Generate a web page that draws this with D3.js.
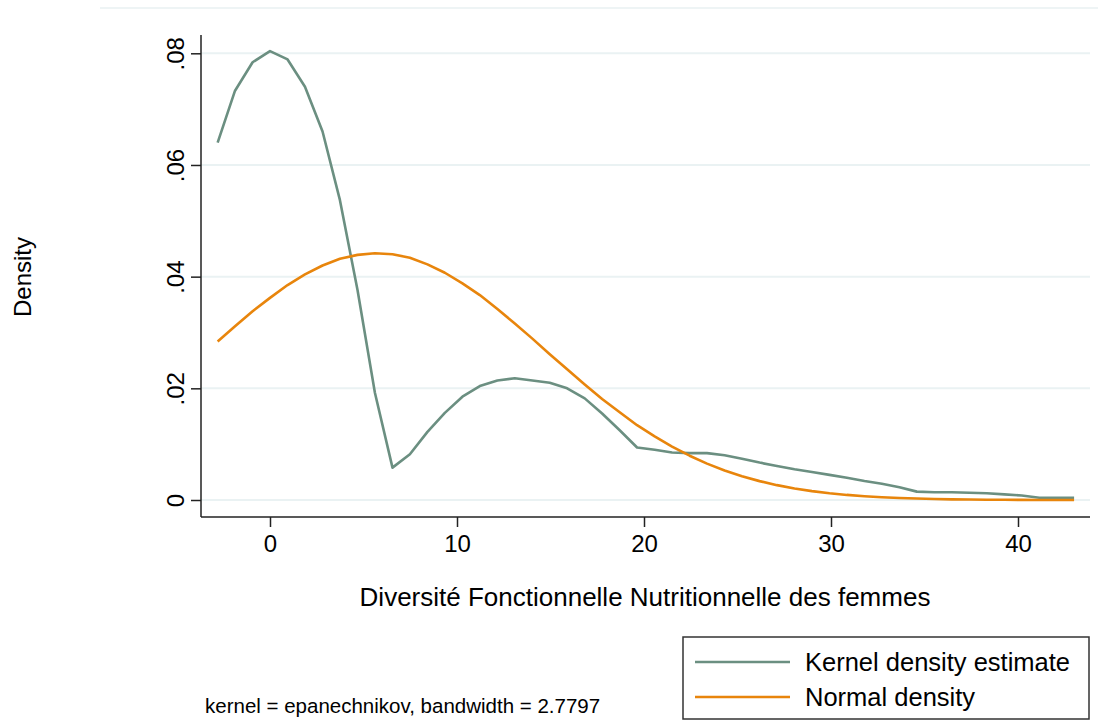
<!DOCTYPE html>
<html>
<head>
<meta charset="utf-8">
<script src="https://cdn.jsdelivr.net/npm/d3@7"></script>
<style>
  body { margin: 0; background: #fff; }
  text { font-family: "Liberation Sans", Arial, sans-serif; fill: #000; }
</style>
</head>
<body>
<svg id="chart" width="1098" height="721"></svg>
<script>
// evaluation points (x) shared by both curves
var gridX = [-2.8, -1.87, -0.93, 0.0, 0.94, 1.87, 2.81, 3.74, 4.68, 5.61,
  6.55, 7.48, 8.42, 9.35, 10.29, 11.22, 12.16, 13.09, 14.03, 14.96,
  15.89, 16.83, 17.76, 18.7, 19.63, 20.57, 21.5, 22.44, 23.37, 24.31,
  25.24, 26.18, 27.11, 28.05, 28.98, 29.92, 30.85, 31.79, 32.72, 33.66,
  34.59, 35.53, 36.46, 37.4, 38.33, 39.27, 40.2, 41.14, 42.07, 43.0];

var kernelDensity = [.0640, .0733, .0784, .0804, .0789, .0740, .0660, .0537, .0376, .0192,
  .0058, .0082, .0122, .0156, .0185, .0204, .0214, .0218, .0214, .0210,
  .0200, .0182, .0155, .0125, .0094, .0090, .0085, .0084, .0084, .0080,
  .0074, .0067, .0061, .0055, .0050, .0045, .0040, .0034, .0029, .0023,
  .0015, .0014, .0014, .0013, .0012, .0010, .0008, .0004, .0004, .0004];

var normalDensity = [.0284, .0311, .0338, .0362, .0385, .0404, .0420, .0432, .0439, .0442,
  .0440, .0434, .0422, .0407, .0388, .0367, .0342, .0316, .0289, .0261,
  .0234, .0207, .0181, .0157, .0134, .0114, .00957, .00793, .00652, .00529,
  .00425, .00338, .00266, .00207, .00159, .00121, .00091, .00068, .00050, .00037,
  .00026, .00018, .00012, .00008, .00005, .00004, .00002, .00001, .00001, .00001];

var xTicks = [0, 10, 20, 30, 40];
var yTicks = [0, .02, .04, .06, .08];
var seriesNames = ["Kernel density estimate", "Normal density"];
var seriesColors = ["#6b8f81", "#e8850c"];

var svg = d3.select('#chart');
var xScale = d3.scaleLinear().domain([0, 40]).range([270, 1018]);
var yScale = d3.scaleLinear().domain([0, .08]).range([500, 53.3]);
var plotLeft = 201, plotRight = 1090, plotBottom = 517, plotTop = 35;

// faint outer frame line at the top
svg.append('line')
  .attr('x1', 100).attr('x2', 1098).attr('y1', 8).attr('y2', 8)
  .attr('stroke', '#eef4f5').attr('stroke-width', 2);

// horizontal grid
svg.append('g').selectAll('line')
  .data(yTicks)
  .enter().append('line')
  .attr('x1', plotLeft).attr('x2', plotRight)
  .attr('y1', (d) => yScale(d)).attr('y2', (d) => yScale(d))
  .attr('stroke', '#eaf2f3').attr('stroke-width', 2);

// curves
var line = d3.line()
  .x((d) => xScale(d[0]))
  .y((d) => yScale(d[1]));

[kernelDensity, normalDensity].forEach(function(vals, i) {
  svg.append('path')
    .datum(gridX.map((x, j) => [x, vals[j]]))
    .attr('d', line)
    .attr('fill', 'none')
    .attr('stroke', seriesColors[i])
    .attr('stroke-width', 2.6)
    .attr('stroke-linejoin', 'round');
});

// axes
var xAxis = svg.append('g')
  .attr('transform', 'translate(0,' + plotBottom + ')')
  .call(d3.axisBottom(xScale).tickValues(xTicks).tickSize(10).tickPadding(8));
xAxis.select('.domain').attr('d', 'M' + plotLeft + ',0H' + plotRight);
xAxis.selectAll('text').attr('font-size', 24).attr('fill', '#000')
  .style('font-family', '"Liberation Sans", Arial, sans-serif');

var yFmt = (d) => d === 0 ? '0' : d3.format('.2f')(d).replace(/^0/, '');
var yAxis = svg.append('g')
  .attr('transform', 'translate(' + plotLeft + ',0)')
  .call(d3.axisLeft(yScale).tickValues(yTicks).tickSize(10).tickFormat(yFmt));
yAxis.select('.domain').attr('d', 'M0,' + plotTop + 'V' + plotBottom);
yAxis.selectAll('text')
  .attr('font-size', 24).attr('fill', '#000')
  .attr('x', null).attr('dy', null)
  .attr('text-anchor', 'middle')
  .attr('transform', 'translate(-17,0) rotate(-90)')
  .style('font-family', '"Liberation Sans", Arial, sans-serif');

svg.selectAll('.domain, .tick line').attr('stroke', '#222').attr('stroke-width', 1.5);

// axis titles
svg.append('text')
  .attr('x', 645).attr('y', 606)
  .attr('text-anchor', 'middle').attr('font-size', 26)
  .text('Diversité Fonctionnelle Nutritionnelle des femmes');

svg.append('text')
  .attr('transform', 'translate(31,277) rotate(-90)')
  .attr('text-anchor', 'middle').attr('font-size', 24)
  .text('Density');

// note
svg.append('text')
  .attr('x', 205).attr('y', 713)
  .attr('font-size', 20.5)
  .text('kernel = epanechnikov, bandwidth = 2.7797');

// legend
var legend = svg.append('g');
legend.append('rect')
  .attr('x', 683).attr('y', 637).attr('width', 406).attr('height', 82)
  .attr('fill', '#fff').attr('stroke', '#333').attr('stroke-width', 1.5);

var items = legend.selectAll('g.item')
  .data(seriesNames)
  .enter().append('g')
  .attr('class', 'item')
  .attr('transform', (d, i) => 'translate(0,' + (662 + i * 35) + ')');
items.append('line')
  .attr('x1', 695).attr('x2', 790)
  .attr('stroke', (d, i) => seriesColors[i]).attr('stroke-width', 2.6);
items.append('text')
  .attr('x', 805).attr('y', 9)
  .attr('font-size', 25.5)
  .text((d) => d);
</script>
</body>
</html>
